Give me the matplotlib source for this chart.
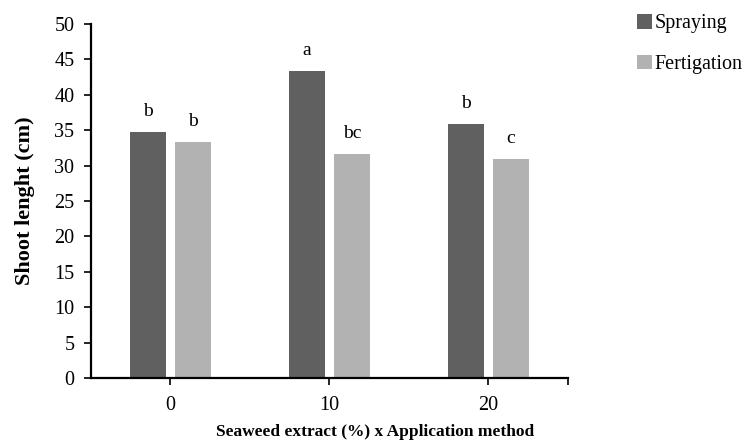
import matplotlib
matplotlib.use("Agg")
import matplotlib.pyplot as plt
import numpy as np

plt.rcParams["font.family"] = ["Liberation Serif", "DejaVu Serif"]

# --- Data ---
categories = ["0", "10", "20"]
spraying = [34.75, 43.4, 35.9]
fertigation = [33.3, 31.7, 31.0]
spraying_letters = ["b", "a", "b"]
fertigation_letters = ["b", "bc", "c"]

dark = "#606060"
light = "#b2b2b2"

fig = plt.figure(figsize=(7.5, 4.41), dpi=100)
ax = fig.add_axes([0.1213, 0.1429, 0.636, 0.8027])

x = np.arange(len(categories))
width = 0.227
offset = 0.142

b1 = ax.bar(x - offset, spraying, width, color=dark, label="Spraying")
b2 = ax.bar(x + offset, fertigation, width, color=light, label="Fertigation")

# --- Significance letters ---
for bars, letters in ((b1, spraying_letters), (b2, fertigation_letters)):
    for rect, letter in zip(bars, letters):
        ax.annotate(
            letter,
            (rect.get_x() + rect.get_width() / 2, rect.get_height()),
            xytext=(0, 11.5),
            textcoords="offset points",
            ha="center",
            va="baseline",
            fontsize=14,
        )

# --- Axes ---
ax.set_xlim(-0.5, 2.5)
ax.set_ylim(0, 50)
ax.set_yticks(np.arange(0, 51, 5))
ax.set_xticks(x)
ax.set_xticklabels(categories)
ax.set_xticks([2.5], minor=True)
ax.tick_params(axis="both", labelsize=14.5, width=1.2, length=5, direction="out")
ax.tick_params(axis="x", which="minor", length=5, width=1.2)
ax.tick_params(axis="x", pad=8)
ax.tick_params(axis="y", pad=7)

for side in ("top", "right"):
    ax.spines[side].set_visible(False)
for side in ("left", "bottom"):
    ax.spines[side].set_linewidth(1.6)

ax.set_ylabel("Shoot lenght (cm)", fontsize=16, fontweight="bold", labelpad=14)
# x title is centred on the whole chart area, not on the plot area
fig.text(0.5, 0.012, "Seaweed extract (%) x Application method",
         ha="center", va="baseline", fontsize=12.5, fontweight="bold")

# --- Legend ---
fig.legend(
    handles=[b1, b2],
    loc="upper left",
    bbox_to_anchor=(0.83, 1.0),
    frameon=False,
    fontsize=14.5,
    handlelength=0.75,
    handleheight=0.75,
    handletextpad=0.15,
    labelspacing=1.05,
    borderaxespad=0.3,
)

fig.savefig("out.png", dpi=100)
